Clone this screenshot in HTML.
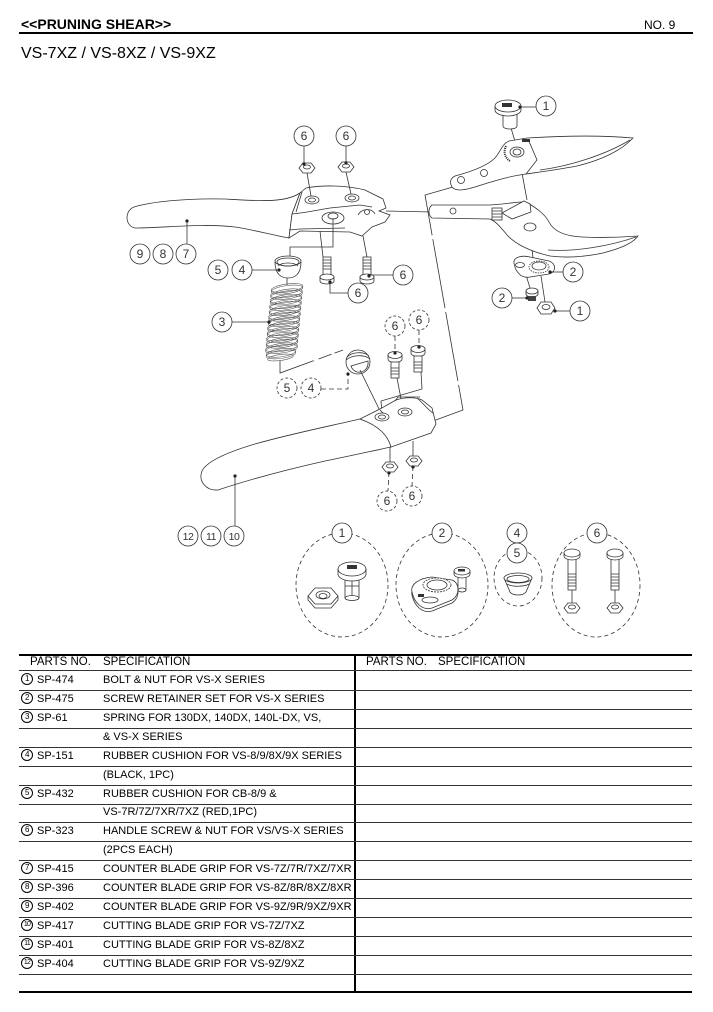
<!DOCTYPE html>
<html><head><meta charset="utf-8">
<style>
html,body{margin:0;padding:0;background:#fff;}
body{width:713px;height:1012px;position:relative;overflow:hidden;font-family:"Liberation Sans",sans-serif;color:#000;}
.a{position:absolute;white-space:nowrap;}
.hl{position:absolute;left:19px;width:673px;height:1px;background:#333;}
.r{position:absolute;height:19px;line-height:19px;font-size:11px;white-space:nowrap;}
.c{display:inline-block;box-sizing:border-box;width:12px;height:12px;border:1px solid #000;border-radius:50%;font-size:8px;line-height:10px;text-align:center;vertical-align:middle;position:relative;top:-1px;letter-spacing:-0.5px;}
.c2{font-size:7px;letter-spacing:-0.8px;}
svg text{font-family:"Liberation Sans",sans-serif;}
</style></head><body>

<div class="a" style="left:21px;top:16px;font-size:14px;line-height:16px;font-weight:bold;">&lt;&lt;PRUNING SHEAR&gt;&gt;</div>
<div class="a" style="left:644px;top:17px;font-size:12px;line-height:16px;">NO. 9</div>
<div class="a" style="left:19px;top:32px;width:674px;height:2px;background:#000;"></div>
<div class="a" style="left:21px;top:45px;font-size:16px;line-height:18px;">VS-7XZ / VS-8XZ / VS-9XZ</div>

<svg width="713" height="1012" style="position:absolute;left:0;top:0" xmlns="http://www.w3.org/2000/svg">
<defs><style>
.l{fill:none;stroke:#333;stroke-width:0.8}
.w{fill:#fff;stroke:#333;stroke-width:0.8}
.lb circle{fill:#fff;stroke:#333;stroke-width:0.8}
.lb text{font-size:12px;fill:#333;text-anchor:middle}
.lb .s{font-size:10.5px;letter-spacing:-0.5px}
.d circle{stroke-dasharray:3 2}
.dd{fill:none;stroke:#333;stroke-width:0.8;stroke-dasharray:5 3}
.dot{fill:#222}
.sp{fill:none;stroke:#555;stroke-width:0.6}
</style></defs>

<!-- long assembly lines -->
<path class="l" d="M453,187 L425,195 L463,410 L433,421" stroke-dasharray="70 4"/>
<path class="l" d="M386,211 L432,212"/>

<!-- upper handle (counter blade grip) -->
<path class="w" d="M300,193 C285,203 260,201 225,199 C185,198 150,202 134,207 C124,211 125,226 135,228 C165,228 200,223 235,227 C255,230 272,235 289,238 L292,214 Z"/>
<path class="w" d="M292,214 L300,193 L306,188 C322,185 345,185 365,190 L383,199 L386,208 L379,211 L390,215 L385,222 L372,227 L362,236 L350,232 L300,231 L289,238 Z"/>
<path class="l" d="M292,214 C305,213 318,210 330,208 L360,205 L372,207"/>
<path class="l" d="M289,230 L300,229 L345,228"/>
<path class="l" d="M302,192 L296,212"/>
<ellipse class="w" cx="312" cy="200" rx="7" ry="4"/><ellipse class="l" cx="312" cy="200" rx="3.5" ry="2"/>
<ellipse class="w" cx="352" cy="198" rx="7" ry="4"/><ellipse class="l" cx="352" cy="198" rx="3.5" ry="2"/>
<ellipse class="w" cx="333" cy="218" rx="11" ry="6"/><ellipse class="l" cx="333" cy="216" rx="5" ry="3"/>
<path class="l" d="M358,215 C362,208 372,208 375,214"/>
<circle class="l" cx="367" cy="212" r="2.5"/>

<!-- top nuts -->
<polygon class="w" points="299,168 303,163 311,163 315,168 311,173 303,173"/><ellipse class="l" cx="307" cy="167" rx="3.5" ry="2"/>
<polygon class="w" points="338,167 342,162 350,162 354,167 350,172 342,172"/><ellipse class="l" cx="346" cy="166" rx="3.5" ry="2"/>
<path class="l" d="M307,173 L311,196 M346,172 L351,194 M304,146 L304,163 M346,146 L346,162"/>
<circle class="dot" cx="304" cy="164" r="1.6"/><circle class="dot" cx="346" cy="163" r="1.6"/>
<g class="lb"><circle cx="304" cy="136" r="10"/><text x="304" y="140">6</text></g>
<g class="lb"><circle cx="346" cy="136" r="10"/><text x="346" y="140">6</text></g>

<!-- upper bolts -->
<path class="l" d="M320,231 L323,257 M363,236 L367,257 M333,218 L333,247 L290,247 L290,256"/>
<rect class="w" x="323" y="257" width="8" height="20"/>
<path class="l" d="M323,260 h8 M323,263 h8 M323,266 h8 M323,269 h8"/>
<path class="w" d="M320,277 v4 a7,3 0 0 0 14,0 v-4 z"/><ellipse class="w" cx="327" cy="277" rx="7" ry="3"/>
<rect class="w" x="363" y="257" width="8" height="20"/>
<path class="l" d="M363,260 h8 M363,263 h8 M363,266 h8 M363,269 h8"/>
<path class="w" d="M360,277 v4 a7,3 0 0 0 14,0 v-4 z"/><ellipse class="w" cx="367" cy="277" rx="7" ry="3"/>
<path class="l" d="M330,282 L330,293 L348,293 M369,275 L393,275"/>
<circle class="dot" cx="330" cy="282" r="1.6"/><circle class="dot" cx="369" cy="276" r="1.6"/>
<g class="lb"><circle cx="358" cy="293" r="10"/><text x="358" y="297">6</text></g>
<g class="lb"><circle cx="403" cy="275" r="10"/><text x="403" y="279">6</text></g>

<!-- upper cushion -->
<path class="w" d="M275,262 C275,275 282,278 288,278 C294,278 301,275 301,262 Z"/>
<ellipse class="w" cx="288" cy="261" rx="13" ry="5"/>
<ellipse class="l" cx="288" cy="262" rx="11" ry="4"/>
<path class="l" d="M278,266 C282,262 294,262 298,266"/>
<path class="l" d="M287,278 L287,285 M252,270 L279,270"/>
<circle class="dot" cx="279" cy="270" r="1.6"/>
<g class="lb"><circle cx="218" cy="270" r="10"/><text x="218" y="274">5</text></g>
<g class="lb"><circle cx="242" cy="270" r="10"/><text x="242" y="274">4</text></g>

<!-- spring -->
<g class="sp">
<ellipse cx="287" cy="288" rx="16" ry="4" transform="rotate(-8 287 288)"/><ellipse cx="287" cy="289.6" rx="16" ry="4" transform="rotate(-8 287 289.6)"/>
<ellipse cx="286.5" cy="293.4" rx="16" ry="4" transform="rotate(-8 286.5 293.4)"/><ellipse cx="286.5" cy="295" rx="16" ry="4" transform="rotate(-8 286.5 295)"/>
<ellipse cx="286" cy="298.8" rx="16" ry="4" transform="rotate(-8 286 298.8)"/><ellipse cx="286" cy="300.4" rx="16" ry="4" transform="rotate(-8 286 300.4)"/>
<ellipse cx="285.5" cy="304.2" rx="16" ry="4" transform="rotate(-8 285.5 304.2)"/><ellipse cx="285.5" cy="305.8" rx="16" ry="4" transform="rotate(-8 285.5 305.8)"/>
<ellipse cx="285" cy="309.6" rx="16" ry="4" transform="rotate(-8 285 309.6)"/><ellipse cx="285" cy="311.2" rx="16" ry="4" transform="rotate(-8 285 311.2)"/>
<ellipse cx="284.5" cy="315" rx="16" ry="4" transform="rotate(-8 284.5 315)"/><ellipse cx="284.5" cy="316.6" rx="16" ry="4" transform="rotate(-8 284.5 316.6)"/>
<ellipse cx="284" cy="320.4" rx="16" ry="4" transform="rotate(-8 284 320.4)"/><ellipse cx="284" cy="322" rx="16" ry="4" transform="rotate(-8 284 322)"/>
<ellipse cx="283.5" cy="325.8" rx="16" ry="4" transform="rotate(-8 283.5 325.8)"/><ellipse cx="283.5" cy="327.4" rx="16" ry="4" transform="rotate(-8 283.5 327.4)"/>
<ellipse cx="283" cy="331.2" rx="16" ry="4" transform="rotate(-8 283 331.2)"/><ellipse cx="283" cy="332.8" rx="16" ry="4" transform="rotate(-8 283 332.8)"/>
<ellipse cx="282.5" cy="336.6" rx="16" ry="4" transform="rotate(-8 282.5 336.6)"/><ellipse cx="282.5" cy="338.2" rx="16" ry="4" transform="rotate(-8 282.5 338.2)"/>
<ellipse cx="282" cy="342" rx="16" ry="4" transform="rotate(-8 282 342)"/><ellipse cx="282" cy="343.6" rx="16" ry="4" transform="rotate(-8 282 343.6)"/>
<ellipse cx="281.5" cy="347.4" rx="16" ry="4" transform="rotate(-8 281.5 347.4)"/><ellipse cx="281.5" cy="349" rx="16" ry="4" transform="rotate(-8 281.5 349)"/>
<ellipse cx="281" cy="352.8" rx="15" ry="4" transform="rotate(-8 281 352.8)"/><ellipse cx="281" cy="354.4" rx="15" ry="4" transform="rotate(-8 281 354.4)"/>
<ellipse cx="280.5" cy="357.5" rx="13" ry="3" transform="rotate(-8 280.5 357.5)"/>
</g>
<path class="l" d="M232,322 L269,322"/><circle class="dot" cx="269" cy="322" r="1.6"/>
<g class="lb"><circle cx="222" cy="322" r="10"/><text x="222" y="326">3</text></g>
<path class="l" d="M280,361 L280,373 L343,350" stroke-dasharray="48 5 14 3"/>

<!-- lower cushion -->
<circle class="w" cx="358" cy="362" r="12"/>
<path class="l" d="M347,357 C352,352 364,351 369,356 M346,360 C352,355 364,354 370,359"/>
<path class="w" d="M351,366 L368,361 C369,369 363,373 357,372 C354,371 352,369 351,366 Z"/>
<path class="dd" d="M321,389 L348,389 L348,374"/><circle class="dot" cx="348" cy="374" r="1.6"/>
<g class="lb d"><circle cx="287" cy="388" r="10"/><text x="287" y="392">5</text></g>
<g class="lb d"><circle cx="311" cy="388" r="10"/><text x="311" y="392">4</text></g>
<path class="l" d="M360,370 L382,415"/>

<!-- lower bolts -->
<path class="w" d="M388,355 v4 a7,3.5 0 0 0 14,0 v-4 z"/><ellipse class="w" cx="395" cy="355" rx="7" ry="3.5"/>
<rect class="w" x="391" y="362" width="8" height="16"/>
<path class="l" d="M391,368 h8 M391,371 h8 M391,374 h8"/>
<path class="w" d="M411,349 v4 a7,3.5 0 0 0 14,0 v-4 z"/><ellipse class="w" cx="418" cy="349" rx="7" ry="3.5"/>
<rect class="w" x="414" y="356" width="8" height="16"/>
<path class="l" d="M414,362 h8 M414,365 h8 M414,368 h8"/>
<path class="dd" d="M395,336 L395,351 M419,330 L419,345"/>
<circle class="dot" cx="395" cy="353" r="1.6"/><circle class="dot" cx="419" cy="347" r="1.6"/>
<g class="lb d"><circle cx="395" cy="326" r="10"/><text x="395" y="330">6</text></g>
<g class="lb d"><circle cx="419" cy="320" r="10"/><text x="419" y="324">6</text></g>
<path class="l" d="M397,378 L403,409 M421,372 L422,389 L381,401 L382,413"/>

<!-- lower handle (cutting blade grip) -->
<path class="w" d="M360,419 C330,426 290,434 255,444 C228,452 207,461 202,471 C198,481 206,491 218,490 C245,481 285,470 325,461 C350,456 372,451 391,447 C388,436 380,426 360,419 Z"/>
<path class="w" d="M360,419 L380,409 L396,400 C405,397 416,397 422,400 L432,408 L436,424 L431,433 L391,447 C388,436 380,426 360,419 Z"/>
<path class="l" d="M395,401 L398,397 L420,397 M417,398 C425,405 428,410 433,413 M380,410 L384,414"/>
<ellipse class="w" cx="382" cy="417" rx="7" ry="4"/><ellipse class="l" cx="382" cy="417" rx="3.5" ry="2"/>
<ellipse class="w" cx="405" cy="412" rx="7" ry="4"/><ellipse class="l" cx="405" cy="412" rx="3.5" ry="2"/>
<path class="l" d="M390,447 L390,462 M413,441 L413,456"/>
<polygon class="w" points="382,467 386,462 394,462 398,467 394,472 386,472"/><ellipse class="l" cx="390" cy="466" rx="3.5" ry="2"/>
<polygon class="w" points="406,461 410,456 418,456 422,461 418,466 410,466"/><ellipse class="l" cx="414" cy="460" rx="3.5" ry="2"/>
<path class="dd" d="M389,472 L388,491 M413,466 L412,486"/>
<circle class="dot" cx="389" cy="473" r="1.6"/><circle class="dot" cx="413" cy="467" r="1.6"/>
<g class="lb d"><circle cx="387" cy="501" r="10"/><text x="387" y="505">6</text></g>
<g class="lb d"><circle cx="412" cy="496" r="10"/><text x="412" y="500">6</text></g>
<path class="l" d="M235,476 L235,526"/><circle class="dot" cx="235" cy="476" r="1.6"/>
<circle class="dot" cx="187" cy="221" r="1.6"/><path class="l" d="M187,221 L187,244"/>
<g class="lb"><circle cx="140" cy="254" r="10"/><text x="140" y="258">9</text></g>
<g class="lb"><circle cx="163" cy="254" r="10"/><text x="163" y="258">8</text></g>
<g class="lb"><circle cx="186" cy="254" r="10"/><text x="186" y="258">7</text></g>
<g class="lb"><circle cx="188" cy="536" r="10"/><text class="s" x="188" y="540">12</text></g>
<g class="lb"><circle cx="211" cy="536" r="10"/><text class="s" x="211" y="540">11</text></g>
<g class="lb"><circle cx="234" cy="536" r="10"/><text class="s" x="234" y="540">10</text></g>

<!-- right: vertical assembly lines -->
<path class="l" d="M511,128 L517,148 M519,157 L527,200 M530,231 L533,258 M526,275 L530,288 M541,276 L545,302"/>

<!-- upper blade -->
<path class="w" d="M455,176 C470,172 487,166 495,158 C501,151 502,144 509,141 L527,138 C560,136 600,135 633,138 C622,150 602,160 577,166 C556,170 540,172 526,174 C510,176 494,181 478,186 C466,190 456,192 452,187 C449,182 451,178 455,176 Z"/>
<path class="l" d="M528,139 L537,160 L526,174"/>
<path class="l" d="M540,170 C570,166 605,155 630,140"/>
<ellipse class="w" cx="517" cy="152" rx="7" ry="5"/><ellipse class="l" cx="517" cy="152" rx="4" ry="3"/>
<circle class="l" cx="461" cy="180" r="3.5"/><circle class="l" cx="484" cy="173" r="3.5"/>
<path d="M506,146 C503,152 505,158 510,161" stroke="#222" stroke-width="2" fill="none" stroke-dasharray="1 1"/>
<rect x="522" y="139" width="8" height="3" fill="#333"/>

<!-- lower blade -->
<path class="w" d="M432,205 L490,205 L502,204 L520,202 L528,203 C536,208 545,214 549,222 C553,230 562,236 582,237 C605,238 625,237 638,236 C633,243 622,248 603,253 C584,257 565,258 550,256 C533,252 518,246 508,236 C501,228 497,222 490,219 L432,218 C428,215 428,208 432,205 Z"/>
<path class="l" d="M548,250 C575,252 610,246 636,237"/>
<path class="w" d="M502,213 L524,201 L530,204 L531,212 L512,219 Z"/>
<rect class="w" x="492" y="208" width="10" height="12"/>
<path class="l" d="M492,211 h10 M492,214 h10 M492,217 h10"/>
<circle class="l" cx="453" cy="211" r="3"/>
<ellipse class="w" cx="530" cy="227" rx="6" ry="4"/>

<!-- top bolt 1 -->
<path class="w" d="M503,112 L503,126 C503,130 517,130 517,126 L517,112 Z"/>
<path class="w" d="M495,106 v4 a13,6 0 0 0 26,0 v-4 z"/>
<ellipse class="w" cx="508" cy="106" rx="13" ry="6"/>
<rect x="502" y="103" width="10" height="4" fill="#333"/>
<path class="l" d="M520,107 L536,107"/><circle class="dot" cx="520" cy="107" r="1.6"/>
<g class="lb"><circle cx="546" cy="106" r="10"/><text x="546" y="110">1</text></g>

<!-- retainer 2 -->
<path class="w" d="M514,263 C513,257 522,255 530,257 L549,261 C556,263 557,272 549,274 L530,277 C520,279 515,270 514,263 Z"/>
<ellipse class="l" cx="520" cy="265" rx="4.5" ry="2.5"/>
<ellipse class="w" cx="539" cy="267" rx="10" ry="6" stroke-dasharray="1.5 1"/>
<ellipse class="l" cx="539" cy="266" rx="7" ry="4"/>
<path class="l" d="M550,272 L563,272"/><circle class="dot" cx="550" cy="272" r="1.6"/>
<g class="lb"><circle cx="573" cy="272" r="10"/><text x="573" y="276">2</text></g>

<!-- small screw 2 -->
<path class="w" d="M526,291 v3 a6,3 0 0 0 12,0 v-3 z"/><ellipse class="w" cx="532" cy="291" rx="6" ry="3"/>
<rect x="528" y="296" width="8" height="5" fill="#444"/>
<path class="l" d="M512,298 L527,298"/><circle class="dot" cx="527" cy="298" r="1.6"/>
<g class="lb"><circle cx="502" cy="298" r="10"/><text x="502" y="302">2</text></g>

<!-- nut 1 -->
<polygon class="w" points="537,308 541,302 551,302 555,308 551,314 541,314"/>
<ellipse class="l" cx="546" cy="307" rx="4" ry="2.5"/>
<path class="l" d="M555,311 L570,311"/><circle class="dot" cx="555" cy="311" r="1.6"/>
<g class="lb"><circle cx="580" cy="311" r="10"/><text x="580" y="315">1</text></g>

<!-- detail circles -->
<ellipse class="l" cx="342" cy="585" rx="46" ry="52" stroke-dasharray="4 3"/>
<ellipse class="l" cx="442" cy="585" rx="46" ry="52" stroke-dasharray="4 3"/>
<ellipse class="l" cx="518" cy="578" rx="24" ry="28" stroke-dasharray="4 3"/>
<ellipse class="l" cx="596" cy="585" rx="44" ry="52" stroke-dasharray="4 3"/>

<!-- circle 1 content -->
<path class="w" d="M308,596 v4 l7,8 h16 l7,-8 v-4 z"/>
<polygon class="w" points="308,596 315,588 331,588 338,596 331,604 315,604"/>
<ellipse class="l" cx="323" cy="595" rx="7" ry="4"/><ellipse class="l" cx="323" cy="596" rx="4" ry="2.5"/>
<rect class="w" x="345" y="576" width="14" height="22"/>
<path class="l" d="M352,576 L352,598 M345,586 h14"/>
<ellipse class="w" cx="352" cy="598" rx="7" ry="2.5"/>
<path class="w" d="M338,569 v5 a14,7 0 0 0 28,0 v-5 z"/>
<ellipse class="w" cx="352" cy="569" rx="14" ry="7"/>
<rect x="347" y="565" width="10" height="4" fill="#333"/>

<!-- circle 2 content -->
<path class="w" d="M412,595 C410,587 420,581 432,580 L452,583 C460,586 460,598 452,603 L432,611 C422,614 414,605 412,595 Z"/>
<path class="w" d="M412,592 C410,584 420,578 432,577 L452,580 C460,583 460,595 452,600 L432,608 C422,611 414,602 412,592 Z"/>
<ellipse class="w" cx="437" cy="585" rx="14" ry="7" stroke-dasharray="2 1"/>
<ellipse class="l" cx="437" cy="585" rx="10" ry="5"/>
<ellipse class="l" cx="430" cy="600" rx="8" ry="3"/>
<rect x="418" y="594" width="6" height="3" fill="#333"/>
<rect class="w" x="458" y="575" width="8" height="15"/>
<ellipse class="w" cx="462" cy="590" rx="4" ry="2"/>
<path class="w" d="M454,571 v3 a8,4 0 0 0 16,0 v-3 z"/><ellipse class="w" cx="462" cy="571" rx="8" ry="4"/>
<rect x="458" y="569" width="7" height="2.5" fill="#333"/>

<!-- circle 4/5 content -->
<path class="w" d="M504,578 L510,592 C513,596 523,596 526,592 L532,578 Z"/>
<ellipse class="w" cx="518" cy="578" rx="14" ry="5"/>
<ellipse class="l" cx="518" cy="579" rx="11" ry="3.5"/>
<path class="l" d="M507,584 C512,587 524,587 529,584"/>

<!-- circle 6 content -->
<rect class="w" x="568" y="557" width="8" height="33"/>
<path class="l" d="M568,574 h8 M568,577 h8 M568,580 h8 M568,583 h8 M568,586 h8"/>
<path class="w" d="M564,553 v3 a8,4 0 0 0 16,0 v-3 z"/><ellipse class="w" cx="572" cy="553" rx="8" ry="4"/>
<path class="l" d="M572,590 L572,603"/>
<polygon class="w" points="564,608 568,603 576,603 580,608 576,613 568,613"/><ellipse class="l" cx="572" cy="607" rx="3.5" ry="2"/>
<rect class="w" x="611" y="557" width="8" height="33"/>
<path class="l" d="M611,574 h8 M611,577 h8 M611,580 h8 M611,583 h8 M611,586 h8"/>
<path class="w" d="M607,553 v3 a8,4 0 0 0 16,0 v-3 z"/><ellipse class="w" cx="615" cy="553" rx="8" ry="4"/>
<path class="l" d="M615,590 L615,603"/>
<polygon class="w" points="607,608 611,603 619,603 623,608 619,613 611,613"/><ellipse class="l" cx="615" cy="607" rx="3.5" ry="2"/>

<g class="lb"><circle cx="342" cy="533" r="10"/><text x="342" y="537">1</text></g>
<g class="lb"><circle cx="442" cy="533" r="10"/><text x="442" y="537">2</text></g>
<g class="lb"><circle cx="517" cy="533" r="10"/><text x="517" y="537">4</text></g>
<g class="lb"><circle cx="517" cy="553" r="10"/><text x="517" y="557">5</text></g>
<g class="lb"><circle cx="597" cy="533" r="10"/><text x="597" y="537">6</text></g>
</svg>

<!-- TABLE -->
<div class="a" style="left:19px;top:654px;width:673px;height:2px;background:#000;"></div>
<div class="a" style="left:354px;top:654px;width:2px;height:339px;background:#000;"></div>
<div class="a" style="left:19px;top:991px;width:673px;height:2px;background:#000;"></div>
<div class="a" style="left:30px;top:655px;font-size:11.5px;line-height:15px;">PARTS NO.</div>
<div class="a" style="left:103px;top:655px;font-size:11.5px;line-height:15px;">SPECIFICATION</div>
<div class="a" style="left:366px;top:655px;font-size:11.5px;line-height:15px;">PARTS NO.</div>
<div class="a" style="left:438px;top:655px;font-size:11.5px;line-height:15px;">SPECIFICATION</div>

<div class="hl" style="top:670px"></div>
<div class="hl" style="top:690px"></div>
<div class="hl" style="top:709px"></div>
<div class="hl" style="top:728px"></div>
<div class="hl" style="top:747px"></div>
<div class="hl" style="top:766px"></div>
<div class="hl" style="top:785px"></div>
<div class="hl" style="top:804px"></div>
<div class="hl" style="top:822px"></div>
<div class="hl" style="top:841px"></div>
<div class="hl" style="top:860px"></div>
<div class="hl" style="top:879px"></div>
<div class="hl" style="top:898px"></div>
<div class="hl" style="top:917px"></div>
<div class="hl" style="top:936px"></div>
<div class="hl" style="top:955px"></div>
<div class="hl" style="top:974px"></div>

<div class="r" style="left:21px;top:671px"><span class="c">1</span></div>
<div class="r" style="left:37px;top:671px">SP-474</div>
<div class="r" style="left:103px;top:671px">BOLT &amp; NUT FOR VS-X SERIES</div>

<div class="r" style="left:21px;top:690px"><span class="c">2</span></div>
<div class="r" style="left:37px;top:690px">SP-475</div>
<div class="r" style="left:103px;top:690px">SCREW RETAINER SET FOR VS-X SERIES</div>

<div class="r" style="left:21px;top:709px"><span class="c">3</span></div>
<div class="r" style="left:37px;top:709px">SP-61</div>
<div class="r" style="left:103px;top:709px">SPRING FOR 130DX, 140DX, 140L-DX, VS,</div>
<div class="r" style="left:103px;top:728px">&amp; VS-X SERIES</div>

<div class="r" style="left:21px;top:747px"><span class="c">4</span></div>
<div class="r" style="left:37px;top:747px">SP-151</div>
<div class="r" style="left:103px;top:747px">RUBBER CUSHION FOR VS-8/9/8X/9X SERIES</div>
<div class="r" style="left:103px;top:766px">(BLACK, 1PC)</div>

<div class="r" style="left:21px;top:785px"><span class="c">5</span></div>
<div class="r" style="left:37px;top:785px">SP-432</div>
<div class="r" style="left:103px;top:785px">RUBBER CUSHION FOR CB-8/9 &amp;</div>
<div class="r" style="left:103px;top:803px">VS-7R/7Z/7XR/7XZ (RED,1PC)</div>

<div class="r" style="left:21px;top:822px"><span class="c">6</span></div>
<div class="r" style="left:37px;top:822px">SP-323</div>
<div class="r" style="left:103px;top:822px">HANDLE SCREW &amp; NUT FOR VS/VS-X SERIES</div>
<div class="r" style="left:103px;top:841px">(2PCS EACH)</div>

<div class="r" style="left:21px;top:860px"><span class="c">7</span></div>
<div class="r" style="left:37px;top:860px">SP-415</div>
<div class="r" style="left:103px;top:860px">COUNTER BLADE GRIP FOR VS-7Z/7R/7XZ/7XR</div>

<div class="r" style="left:21px;top:879px"><span class="c">8</span></div>
<div class="r" style="left:37px;top:879px">SP-396</div>
<div class="r" style="left:103px;top:879px">COUNTER BLADE GRIP FOR VS-8Z/8R/8XZ/8XR</div>

<div class="r" style="left:21px;top:898px"><span class="c">9</span></div>
<div class="r" style="left:37px;top:898px">SP-402</div>
<div class="r" style="left:103px;top:898px">COUNTER BLADE GRIP FOR VS-9Z/9R/9XZ/9XR</div>

<div class="r" style="left:21px;top:917px"><span class="c c2">10</span></div>
<div class="r" style="left:37px;top:917px">SP-417</div>
<div class="r" style="left:103px;top:917px">CUTTING BLADE GRIP FOR VS-7Z/7XZ</div>

<div class="r" style="left:21px;top:936px"><span class="c c2">11</span></div>
<div class="r" style="left:37px;top:936px">SP-401</div>
<div class="r" style="left:103px;top:936px">CUTTING BLADE GRIP FOR VS-8Z/8XZ</div>

<div class="r" style="left:21px;top:955px"><span class="c c2">12</span></div>
<div class="r" style="left:37px;top:955px">SP-404</div>
<div class="r" style="left:103px;top:955px">CUTTING BLADE GRIP FOR VS-9Z/9XZ</div>

</body></html>
